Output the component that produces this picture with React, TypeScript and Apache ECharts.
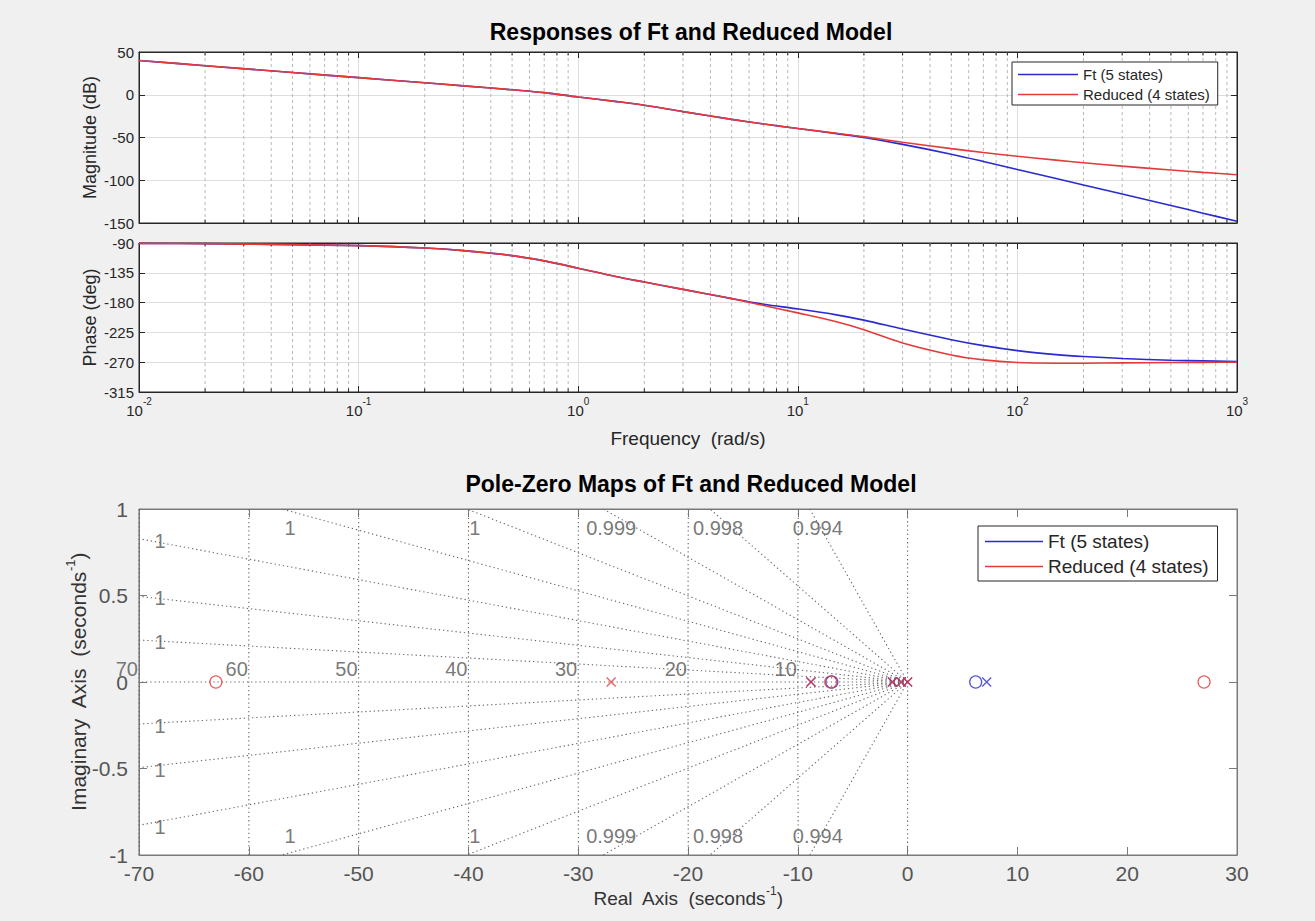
import React, { useEffect, useRef } from 'react';
import * as echarts from 'echarts';

// ---------------- data ----------------
const freq = [0.01, 0.02, 0.05, 0.1, 0.2, 0.3, 0.5, 0.7, 1, 1.5, 2, 3, 5, 7, 10, 15, 20, 30, 50, 70, 100, 150, 200, 300, 500, 700, 1000];
const magFt = [40, 34, 26, 20, 14, 10.4, 5.8, 2.5, -2.7, -8, -12.2, -19.7, -28.8, -34.3, -39.5, -45.5, -50, -58, -69.5, -78, -87.5, -98, -105.5, -116, -129.5, -138.5, -148];
const magRed = [40, 34, 26, 20, 14, 10.4, 5.8, 2.5, -2.7, -8, -12.2, -19.7, -28.8, -34.3, -39.5, -45, -49, -55.5, -63, -67.5, -72, -76.5, -79.5, -83.5, -88, -90.8, -93.5];
const phaseFt = [-90.5, -91, -92.5, -94, -97.5, -101.5, -109, -117, -128, -141, -149, -160, -174, -182.5, -189.5, -198.5, -206.5, -220, -236, -245, -252.5, -258.5, -261.5, -264.5, -267, -268, -269];
const phaseRed = [-90.5, -91, -92.5, -94, -97.5, -101.5, -109, -117, -128, -141, -149, -160, -174, -184.5, -195.5, -209, -221, -241, -259, -266.5, -270.5, -271.5, -271.5, -271, -270.5, -270.2, -270];

const ftPolesRe = [0, -0.6, -1.4, -8.8, 7.2];
const ftZerosRe = [-6.9, 6.2];
const redPolesRe = [-27, -8.8, -1.35, -0.57, 0];
const redZerosRe = [-63, -7.0, 27];

const zetaValues = [0.99375, 0.99846, 0.99935, 0.99969, 0.999846, 0.99993, 0.999975, 0.999994];
const wnValues = [10, 20, 30, 40, 50, 60, 70];

const magTicks = { min: -150, max: 50, interval: 50 };
const phaseTicks = { min: -315, max: -90, interval: 45 };
const pzX = { min: -70, max: 30, interval: 10 };
const pzY = { min: -1, max: 1, interval: 0.5 };
const minorMult = [2, 3, 4, 5, 6, 7, 8, 9];
const decadeStarts = [0.01, 0.1, 1, 10, 100];

const FT = 'Ft (5 states)';
const RED_NAME = 'Reduced (4 states)';

// ---------------- styles ----------------
const FONT = '"Liberation Sans", Arial, Helvetica, sans-serif';
const BLUE = '#2a2ad0';
const RED = '#e43a3a';
const DARK = '#262626';
const PZGRAY = '#686868';
const PZAXIS = '#7a7a7a';

const minorFreqs = decadeStarts.flatMap((d) => minorMult.map((m) => +(m * d).toPrecision(3)));

function minorRender(params: any, api: any) {
  const cs = params.coordSys;
  const x = api.coord([api.value(0), api.value(1)])[0];
  const b = cs.y + cs.height;
  return {
    type: 'group',
    children: [
      { type: 'line', shape: { x1: x, y1: cs.y, x2: x, y2: b }, style: { stroke: '#b8b8b8', lineWidth: 1, lineDash: [3, 3] } },
      { type: 'line', shape: { x1: x, y1: b, x2: x, y2: b - 3.5 }, style: { stroke: DARK, lineWidth: 1 } },
      { type: 'line', shape: { x1: x, y1: cs.y, x2: x, y2: cs.y + 3.5 }, style: { stroke: DARK, lineWidth: 1 } },
    ],
  };
}

const supRich = {
  b: { fontSize: 15, color: DARK, fontFamily: FONT, verticalAlign: 'bottom', lineHeight: 22 },
  s: { fontSize: 10, color: DARK, fontFamily: FONT, verticalAlign: 'top', lineHeight: 22 },
};

function logX(gridIndex: number, pos: 'bottom' | 'top', labels: boolean) {
  return {
    type: 'log',
    logBase: 10,
    gridIndex,
    position: pos,
    min: 0.01,
    max: 1000,
    splitNumber: 5,
    axisLine: { show: true, onZero: false, lineStyle: { color: DARK } },
    axisTick: { show: true, inside: true, length: 6, lineStyle: { color: DARK } },
    splitLine: { show: pos === 'bottom', lineStyle: { color: '#dedede', width: 1 } },
    minorTick: { show: false },
    axisLabel: labels
      ? {
          show: true,
          margin: 4,
          showMinLabel: true,
          showMaxLabel: true,
          formatter: (v: number) => `{b|10}{s|${Math.round(Math.log10(v))}}`,
          rich: supRich,
        }
      : { show: false },
  };
}

function valY(gridIndex: number, pos: 'left' | 'right', t: any, labels: boolean, name?: string, nameGap?: number) {
  return {
    type: 'value',
    gridIndex,
    position: pos,
    min: t.min,
    max: t.max,
    interval: t.interval,
    name: name,
    nameLocation: 'middle',
    nameGap: nameGap,
    nameMoveOverlap: false,
    nameTextStyle: { fontSize: 18, color: DARK, fontFamily: FONT },
    axisLine: { show: true, onZero: false, lineStyle: { color: DARK } },
    axisTick: { show: true, inside: true, length: 6, lineStyle: { color: DARK } },
    splitLine: { show: pos === 'left', lineStyle: { color: '#dedede', width: 1 } },
    axisLabel: labels ? { show: true, margin: 5, fontSize: 15, color: DARK, fontFamily: FONT } : { show: false },
  };
}

const dotted = { color: PZGRAY, width: 1.1, type: [1.3, 2.9] as any };

function seg(points: number[][]) {
  return {
    type: 'line',
    xAxisIndex: 4,
    yAxisIndex: 4,
    data: points,
    symbol: 'none',
    silent: true,
    lineStyle: dotted,
    z: 1,
  };
}

function pzValAxis(gridIndex: number, pos: string, t: any, extra: any) {
  return {
    type: 'value', gridIndex, position: pos, min: t.min, max: t.max, interval: t.interval,
    axisLine: { show: true, onZero: false, lineStyle: { color: PZAXIS } },
    axisTick: { show: true, inside: true, length: 8, lineStyle: { color: PZAXIS } },
    splitLine: { show: false },
    axisLabel: { show: false },
    nameMoveOverlap: false,
    ...extra,
  };
}

function pzName(size: number) {
  return {
    rich: {
      n: { fontSize: size, color: '#333', fontFamily: FONT, verticalAlign: 'bottom', lineHeight: size + 4 },
      s: { fontSize: Math.round(size * 0.62), color: '#333', fontFamily: FONT, verticalAlign: 'top', lineHeight: size + 4 },
    },
  };
}

function buildOption() {
  const gridSeries: any[] = [];
  const labelItems: any[] = [];
  zetaValues.forEach((z) => {
    const s = Math.sqrt(1 - z * z) / z;
    const txt = String(Number(z.toPrecision(3)));
    if (-pzX.min * s >= pzY.max) {
      const ex = -pzY.max / s;
      [1, -1].forEach((sg) => {
        gridSeries.push(seg([[0, 0], [ex, sg * pzY.max]]));
        labelItems.push({ value: [ex, sg * pzY.max], label: { formatter: txt, offset: [8, sg * 19] } });
      });
    } else {
      const ey = -pzX.min * s;
      [1, -1].forEach((sg) => {
        gridSeries.push(seg([[0, 0], [pzX.min, sg * ey]]));
        labelItems.push({ value: [pzX.min, sg * ey], label: { formatter: txt, offset: [21, 2] } });
      });
    }
  });
  // zeta = 1 (real axis) and zeta = 0 (imaginary axis)
  gridSeries.push(seg([[0, 0], [pzX.min, 0]]));
  gridSeries.push(seg([[0, 0], [0, pzY.max]]));
  gridSeries.push(seg([[0, 0], [0, pzY.min]]));
  // natural frequency arcs
  wnValues.forEach((w) => {
    const pts: number[][] = [];
    for (let i = 0; i <= 20; i++) {
      const y = pzY.min + (i * (pzY.max - pzY.min)) / 20;
      pts.push([-Math.sqrt(w * w - y * y), y]);
    }
    gridSeries.push(seg(pts));
    labelItems.push({ value: [-w, 0], label: { formatter: String(w), align: 'right', offset: [-1, -13] } });
  });

  const cross = 'path://M0,0L10,10M10,0L0,10';
  const pz = (name: string, re: number[], color: string, isPole: boolean) => ({
    type: 'scatter',
    name,
    xAxisIndex: 4,
    yAxisIndex: 4,
    data: re.map((r) => [r, 0]),
    symbol: isPole ? cross : 'circle',
    symbolSize: isPole ? 9 : 12,
    itemStyle: { color: 'none', borderColor: color, borderWidth: 1.3 },
    z: 5,
  });

  const line = (name: string, xi: number, vals: number[], color: string, z: number) => ({
    type: 'line',
    name,
    xAxisIndex: xi,
    yAxisIndex: xi,
    data: freq.map((f, i) => [f, vals[i]]),
    symbol: 'none',
    showSymbol: false,
    smooth: 0.35,
    lineStyle: { color, width: 1.6 },
    itemStyle: { color },
    z,
  });

  const legendBase = {
    orient: 'vertical',
    icon: 'rect',
    selectedMode: false,
    backgroundColor: '#ffffff',
    borderColor: DARK,
    borderWidth: 1,
    borderRadius: 0,
    data: [
      { name: FT, itemStyle: { color: BLUE } },
      { name: RED_NAME, itemStyle: { color: RED } },
    ],
  };

  return {
    animation: false,
    backgroundColor: '#f0f0f0',
    textStyle: { fontFamily: FONT },
    title: [
      { text: 'Responses of Ft and Reduced Model', left: 686, top: 15, textAlign: 'center', textStyle: { fontSize: 23, fontWeight: 'bold', color: '#000', fontFamily: FONT } },
      { text: 'Pole-Zero Maps of Ft and Reduced Model', left: 686, top: 467, textAlign: 'center', textStyle: { fontSize: 23, fontWeight: 'bold', color: '#000', fontFamily: FONT } },
    ],
    legend: [
      { ...legendBase, left: 1012, top: 62, itemWidth: 60, itemHeight: 1.5, itemGap: 5, padding: [5, 8, 3, 6], textStyle: { fontSize: 15, color: DARK, fontFamily: FONT } },
      { ...legendBase, left: 978, top: 526, itemWidth: 58, itemHeight: 1.5, itemGap: 6, padding: [6, 9, 5, 7], textStyle: { fontSize: 19, color: DARK, fontFamily: FONT } },
    ],
    grid: [
      { left: 139, top: 52, width: 1098, height: 171, show: true, backgroundColor: '#fff', borderColor: DARK, borderWidth: 1 },
      { left: 139, top: 243, width: 1098, height: 149, show: true, backgroundColor: '#fff', borderColor: DARK, borderWidth: 1 },
      { left: 139, top: 509, width: 1098, height: 346, show: true, backgroundColor: '#fff', borderColor: PZAXIS, borderWidth: 1 },
    ],
    xAxis: [
      logX(0, 'bottom', false),
      logX(0, 'top', false),
      {
        ...logX(1, 'bottom', true),
        name: 'Frequency  (rad/s)',
        nameLocation: 'middle',
        nameGap: 37,
        nameMoveOverlap: false,
        nameTextStyle: { fontSize: 19, color: DARK, fontFamily: FONT },
      },
      logX(1, 'top', false),
      pzValAxis(2, 'bottom', pzX, {
        name: '{n|Real  Axis  (seconds}{s|-1}{n|)}', nameLocation: 'middle', nameGap: 30,
        nameTextStyle: pzName(19),
        axisLabel: { show: true, margin: 8, fontSize: 21, color: '#555', fontFamily: FONT },
      }),
      pzValAxis(2, 'top', pzX, {}),
    ],
    yAxis: [
      valY(0, 'left', magTicks, true, 'Magnitude (dB)', 40),
      valY(0, 'right', magTicks, false),
      valY(1, 'left', phaseTicks, true, 'Phase (deg)', 40),
      valY(1, 'right', phaseTicks, false),
      pzValAxis(2, 'left', pzY, {
        name: '{n|Imaginary  Axis  (seconds}{s|-1}{n|)}', nameLocation: 'middle', nameGap: 50,
        nameTextStyle: pzName(21),
        axisLabel: { show: true, margin: 11, fontSize: 21, color: '#555', fontFamily: FONT },
      }),
      pzValAxis(2, 'right', pzY, {}),
    ],
    series: [
      { type: 'custom', xAxisIndex: 0, yAxisIndex: 0, data: minorFreqs.map((f) => [f, magTicks.min]), renderItem: minorRender, silent: true, z: 1 },
      { type: 'custom', xAxisIndex: 2, yAxisIndex: 2, data: minorFreqs.map((f) => [f, phaseTicks.min]), renderItem: minorRender, silent: true, z: 1 },
      line(FT, 0, magFt, BLUE, 3),
      line(RED_NAME, 0, magRed, RED, 4),
      line(FT, 2, phaseFt, BLUE, 3),
      line(RED_NAME, 2, phaseRed, RED, 4),
      ...gridSeries,
      {
        type: 'scatter', xAxisIndex: 4, yAxisIndex: 4, data: labelItems, symbolSize: 1, silent: true,
        itemStyle: { color: 'rgba(0,0,0,0)' },
        label: { show: true, position: 'inside', fontSize: 20, color: '#555', fontFamily: FONT },
        z: 2,
      },
      pz(FT, ftPolesRe, BLUE, true),
      pz(FT, ftZerosRe, BLUE, false),
      pz(RED_NAME, redPolesRe, RED, true),
      pz(RED_NAME, redZerosRe, RED, false),
    ],
  };
}

export default function App() {
  const ref = useRef<HTMLDivElement>(null);
  useEffect(() => {
    const chart = echarts.init(ref.current as HTMLDivElement, null, { renderer: 'svg' });
    chart.setOption(buildOption() as any);
    return () => chart.dispose();
  }, []);
  return <div ref={ref} style={{ position: 'absolute', left: 0, top: 0, width: 1315, height: 921 }} />;
}
